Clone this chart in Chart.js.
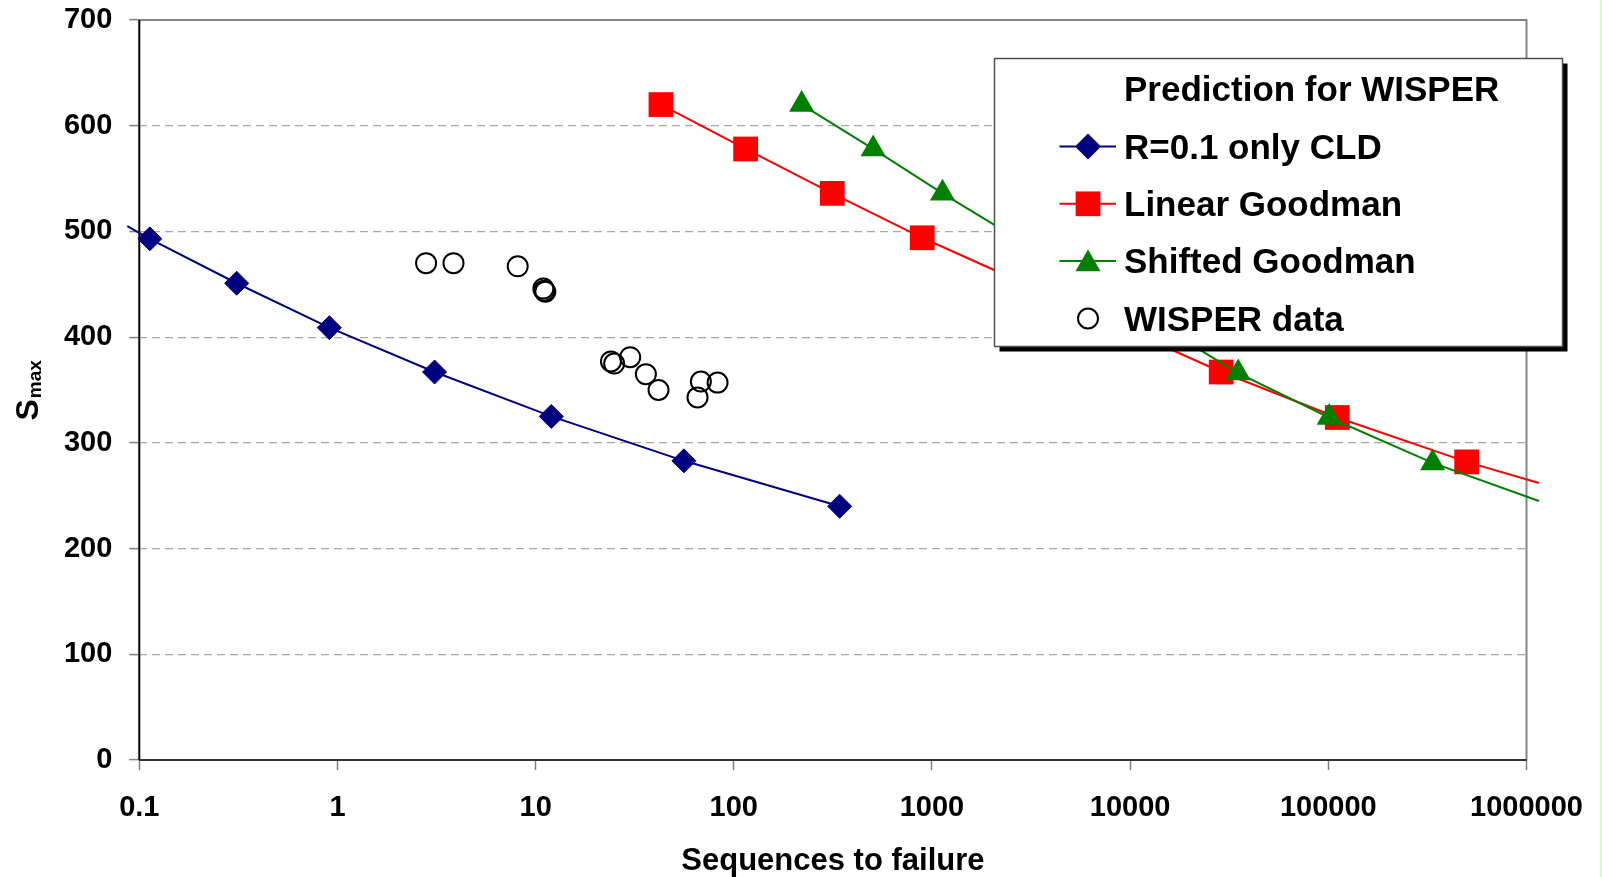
<!DOCTYPE html>
<html>
<head>
<meta charset="utf-8">
<script src="https://cdn.jsdelivr.net/npm/chart.js@4.4.0/dist/chart.umd.min.js"></script>
<style>
    html, body { margin: 0; padding: 0; background: #fff; }
    #wrap { position: relative; width: 1602px; height: 877px; }
    #edge { position: absolute; right: 0; top: 0; width: 2px; height: 877px; background: #d8fcc8; }
</style>
</head>
<body>
<div id="wrap">
    <canvas id="chart" width="1602" height="877"></canvas>
    <div id="edge"></div>
</div>
<script>
// Log axis ticks
var xTicks = [0.1, 1, 10, 100, 1000, 10000, 100000, 1000000];
var xTickLabels = ['0.1', '1', '10', '100', '1000', '10000', '100000', '1000000'];

// R=0.1 only CLD (first point is where the line runs past the axis)
var cldN = [0.087, 0.113, 0.31, 0.91, 3.09, 12.0, 56, 342];
var cldS = [505, 493, 451, 409, 367, 325, 283, 240];

// Linear Goodman (last point is the line end past the right axis)
var linN = [42.9, 114.7, 314, 893, 28800, 111000, 499000, 1155000];
var linS = [620, 578, 536, 494, 367, 324, 282, 262];

// Shifted Goodman
var shiftN = [220, 505, 1130, 35100, 101000, 336000, 1155000];
var shiftS = [620, 578, 536, 366, 324, 281, 245];

// WISPER test data
var wispN = [2.80, 3.85, 8.12, 10.94, 11.06, 11.19, 24.0, 24.9, 30.0, 36.0, 41.7, 68.2, 82.8, 65.6];
var wispS = [470, 470, 467, 446, 444, 443, 377, 375, 381, 365, 350, 358, 357, 343];

var FONT = '"Liberation Sans", Arial, Helvetica, sans-serif';

function pts(xs, ys) {
    return xs.map(function (x, i) { return { x: x, y: ys[i] }; });
}

// hide markers on the points that only extend the line beyond the axes
function rad(r) {
    return function (ctx) {
        var v = ctx.raw;
        if (!v) return r;
        return (v.x < 0.1 || v.x > 1000000) ? 0 : r;
    };
}

function drawMarker(ctx, style, x, y, r) {
    ctx.beginPath();
    if (style === 'rectRot') {
        ctx.moveTo(x - r, y); ctx.lineTo(x, y - r); ctx.lineTo(x + r, y); ctx.lineTo(x, y + r);
        ctx.closePath();
    } else if (style === 'rect') {
        var s = Math.SQRT1_2 * r;
        ctx.rect(x - s, y - s, 2 * s, 2 * s);
    } else if (style === 'triangle') {
        ctx.moveTo(x, y - r);
        ctx.lineTo(x + Math.sin(2 * Math.PI / 3) * r, y + 0.5 * r);
        ctx.lineTo(x - Math.sin(2 * Math.PI / 3) * r, y + 0.5 * r);
        ctx.closePath();
    } else {
        ctx.arc(x, y, r, 0, Math.PI * 2);
    }
}

// frame, y title and boxed legend
var decor = {
    id: 'decor',
    beforeDatasetsDraw: function (chart) {
        var a = chart.chartArea, ctx = chart.ctx;
        ctx.save();
        ctx.lineWidth = 2;
        ctx.strokeStyle = '#858585';
        ctx.beginPath();
        ctx.moveTo(a.left, a.top); ctx.lineTo(a.right, a.top); ctx.lineTo(a.right, a.bottom);
        ctx.stroke();
        ctx.strokeStyle = '#000';
        ctx.beginPath();
        ctx.moveTo(a.left, a.top); ctx.lineTo(a.left, a.bottom);
        ctx.stroke();
        ctx.strokeStyle = '#303030';
        ctx.beginPath();
        ctx.moveTo(a.left, a.bottom); ctx.lineTo(a.right, a.bottom);
        ctx.stroke();
        ctx.restore();
    },
    afterDraw: function (chart) {
        var ctx = chart.ctx;
        ctx.save();
        // y title S_max
        ctx.translate(37.5, 420.5);
        ctx.rotate(-Math.PI / 2);
        ctx.fillStyle = '#000';
        ctx.textBaseline = 'alphabetic';
        ctx.textAlign = 'left';
        ctx.font = 'bold 32px ' + FONT;
        ctx.fillText('S', 0, 0);
        var w = ctx.measureText('S').width;
        ctx.font = 'bold 19px ' + FONT;
        ctx.fillText('max', w + 1, 3);
        ctx.restore();

        // legend box
        var bx = 994.5, by = 58.5, bw = 568, bh = 288;
        ctx.save();
        ctx.fillStyle = '#000';
        ctx.fillRect(bx + 5, by + 5, bw, bh);
        ctx.fillStyle = '#fff';
        ctx.fillRect(bx, by, bw, bh);
        ctx.strokeStyle = '#505050';
        ctx.lineWidth = 1.5;
        ctx.strokeRect(bx, by, bw, bh);

        ctx.fillStyle = '#000';
        ctx.font = 'bold 35px ' + FONT;
        ctx.textBaseline = 'alphabetic';
        ctx.textAlign = 'left';
        ctx.fillText('Prediction for WISPER', 1124, 101);

        var rows = [
            { label: 'R=0.1 only CLD', color: '#000080', style: 'rectRot', r: 13, line: true, fill: true },
            { label: 'Linear Goodman', color: '#ff0000', style: 'rect', r: 17.5, line: true, fill: true },
            { label: 'Shifted Goodman', color: '#008000', style: 'triangle', r: 14.5, line: true, fill: true },
            { label: 'WISPER data', color: '#000000', style: 'circle', r: 10, line: false, fill: false }
        ];
        var base = [158.5, 215.8, 273, 330.5];
        rows.forEach(function (it, i) {
            var my = base[i] - 12;
            if (it.line) {
                ctx.strokeStyle = it.color;
                ctx.lineWidth = 2;
                ctx.beginPath();
                ctx.moveTo(1059.5, my); ctx.lineTo(1116, my);
                ctx.stroke();
            }
            drawMarker(ctx, it.style, 1088, it.style === 'triangle' ? my + 3 : my, it.r);
            if (it.fill) {
                ctx.fillStyle = it.color;
                ctx.fill();
            } else {
                ctx.strokeStyle = it.color;
                ctx.lineWidth = 2;
                ctx.stroke();
            }
            ctx.fillStyle = '#000';
            ctx.fillText(it.label, 1124, base[i]);
        });
        ctx.restore();
    }
};

var tickFont = { family: FONT, size: 29, weight: 'bold', lineHeight: 1.062 };

// let the layout padding alone decide where the plot area sits
function noOverflow(s) {
    s.paddingTop = 0; s.paddingBottom = 0; s.paddingLeft = 0; s.paddingRight = 0;
}

new Chart(document.getElementById('chart'), {
    type: 'scatter',
    data: {
        datasets: [
            {
                label: 'WISPER data', data: pts(wispN, wispS), showLine: false,
                pointStyle: 'circle', pointRadius: 10, pointBorderWidth: 2,
                pointBorderColor: '#000', pointBackgroundColor: 'rgba(0,0,0,0)', order: 0
            },
            {
                label: 'Shifted Goodman', data: pts(shiftN, shiftS), showLine: true,
                borderColor: '#008000', borderWidth: 2, pointStyle: 'triangle',
                pointRadius: rad(14.5), pointBackgroundColor: '#008000', pointBorderColor: '#008000',
                pointBorderWidth: 0, clip: false, order: 1
            },
            {
                label: 'Linear Goodman', data: pts(linN, linS), showLine: true,
                borderColor: '#ff0000', borderWidth: 2, pointStyle: 'rect',
                pointRadius: rad(17.5), pointBackgroundColor: '#ff0000', pointBorderColor: '#ff0000',
                pointBorderWidth: 0, clip: false, order: 2
            },
            {
                label: 'R=0.1 only CLD', data: pts(cldN, cldS), showLine: true,
                borderColor: '#000080', borderWidth: 2, pointStyle: 'rectRot',
                pointRadius: rad(12), pointBackgroundColor: '#000080', pointBorderColor: '#000080',
                pointBorderWidth: 1, clip: false, order: 3
            }
        ]
    },
    options: {
        responsive: false,
        animation: false,
        events: [],
        layout: { padding: { left: 46.9, right: 75.5, top: 20, bottom: 1.4 } },
        plugins: { legend: { display: false }, tooltip: { enabled: false } },
        scales: {
            x: {
                type: 'logarithmic', min: 0.1, max: 1000000,
                afterBuildTicks: function (s) {
                    s.ticks = xTicks.map(function (v) { return { value: v }; });
                },
                afterFit: noOverflow,
                ticks: {
                    color: '#000', font: tickFont, padding: 23, maxRotation: 0, autoSkip: false,
                    callback: function (v) {
                        var i = xTicks.indexOf(v);
                        return i >= 0 ? xTickLabels[i] : '';
                    }
                },
                grid: { drawOnChartArea: false, drawTicks: true, tickLength: 10, tickColor: '#808080', tickWidth: 1.5 },
                border: { display: false },
                title: {
                    display: true, text: 'Sequences to failure', color: '#000',
                    font: { family: FONT, size: 31, weight: 'bold', lineHeight: 0.929 }, padding: { top: 0, bottom: 0 }
                }
            },
            y: {
                min: 0, max: 700,
                afterFit: noOverflow,
                ticks: { stepSize: 100, color: '#000', font: tickFont, padding: 17 },
                grid: { color: '#a8a8a8', lineWidth: 1.2, drawTicks: true, tickLength: 10, tickColor: '#808080', tickWidth: 1.5 },
                border: { display: false, dash: [8, 5] }
            }
        }
    },
    plugins: [decor]
});
</script>
</body>
</html>
